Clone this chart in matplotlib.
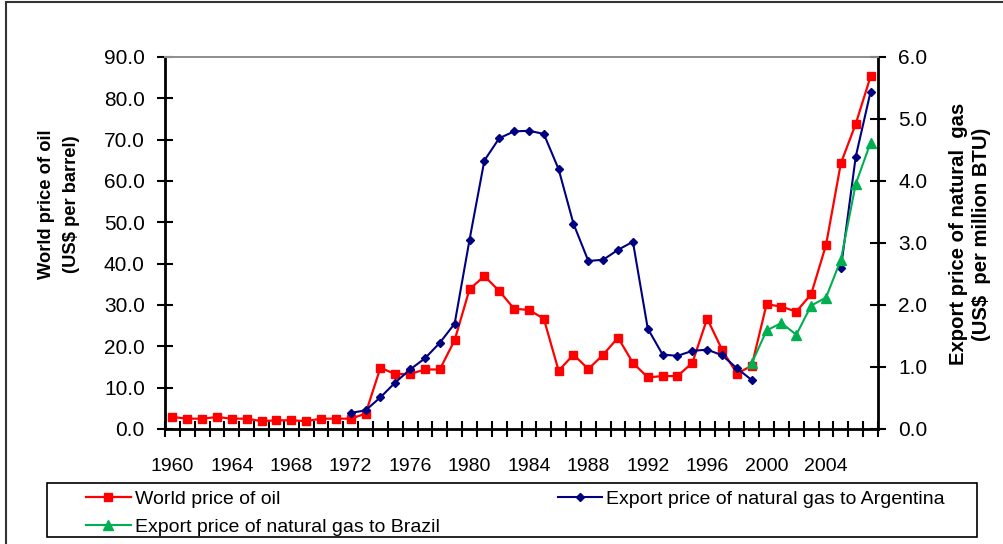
import numpy as np
import matplotlib
matplotlib.use("Agg")
import matplotlib.pyplot as plt
from matplotlib.patches import Rectangle

plt.rcParams['font.family'] = ['Liberation Sans', 'DejaVu Sans']

# datos
years = list(range(1960, 2008))
nan = np.nan
oil = [2.9, 2.5, 2.5, 2.9, 2.5, 2.5, 1.9, 2.1, 2.1, 1.9, 2.5, 2.5, 2.5, 3.7,
       14.8, 13.3, 13.3, 14.4, 14.4, 21.5, 33.8, 37.0, 33.4,
       29.1, 28.8, 26.7, 14.1, 18.0, 14.5, 18.0, 22.1, 16.0,
       12.5, 12.8, 12.8, 16.0, 26.7, 19.2, 13.4, 15.3,
       30.2, 29.6, 28.4, 32.6, 44.5, 64.3, 73.8, 85.3]
gas_argentina = [nan] * 12 + [0.26, 0.30, 0.51, 0.75, 0.96, 1.14, 1.39, 1.70, 3.05, 4.33,
                              4.69, 4.80, 4.81, 4.76, 4.19, 3.31, 2.71, 2.73, 2.89, 3.02,
                              1.62, 1.20, 1.18, 1.26, 1.28, 1.19, 0.98, 0.79] \
    + [nan] * 5 + [2.59, 4.39, 5.44]
gas_brazil = [nan] * 39 + [1.06, 1.59, 1.71, 1.52, 1.99, 2.12, 2.73, 3.95, 4.62]
year_labels = [str(y) for y in range(1960, 2005, 4)]

x = np.arange(len(years))

fig = plt.figure(figsize=(10.04, 5.44), dpi=100)
ax = fig.add_axes([165 / 1004, 1 - 429 / 544, 713 / 1004, 372 / 544])
ax2 = ax.twinx()

l_oil, = ax.plot(x, oil, color='#FF0000', lw=1.6, marker='s', ms=5.8,
                 label='World price of oil')
l_arg, = ax2.plot(x, gas_argentina, color='#000080', lw=1.5, marker='D', ms=4,
                  label='Export price of natural gas to Argentina')
l_bra, = ax2.plot(x, gas_brazil, color='#00B050', lw=1.5, marker='^', ms=6.5,
                  label='Export price of natural gas to Brazil')

ax.set_xlim(-0.5, len(years) - 0.5)
ax.set_ylim(0, 90)
ax2.set_ylim(0, 6)
ax.set_yticks(np.arange(0, 91, 10))
ax.set_yticklabels([f"{v:.1f}" for v in np.arange(0, 91, 10)])
ax2.set_yticks(np.arange(0, 7, 1))
ax2.set_yticklabels([f"{v:.1f}" for v in np.arange(0, 7, 1)])

# etiquetas de anos en el centro, marcas entre categorias
ax.set_xticks(x[::4][:len(year_labels)])
ax.set_xticklabels(year_labels)
ax.set_xticks(np.arange(-0.5, len(years), 1), minor=True)
ax.tick_params(axis='x', which='major', length=0, pad=21, labelsize=14)
ax.tick_params(axis='x', which='minor', direction='inout', length=11, width=1.5)
ax.tick_params(axis='y', direction='inout', length=11, width=1.5, pad=9, labelsize=15)
ax2.tick_params(axis='y', direction='inout', length=11, width=1.5, pad=9, labelsize=15)

for a in (ax, ax2):
    for s in ('left', 'bottom', 'right'):
        a.spines[s].set_linewidth(2)
    a.spines['top'].set_color('#909090')
    a.spines['top'].set_linewidth(1.3)
ax.spines['right'].set_visible(False)
ax2.spines['left'].set_visible(False)
ax2.spines['bottom'].set_visible(False)

fig.text(59 / 1004, 1 - 204 / 544, 'World price of oil\n(US$ per barrel)',
         rotation=90, ha='center', va='center', fontsize=13.2, fontweight='bold',
         linespacing=1.6)
fig.text(970 / 1004, 1 - 234 / 544, 'Export price of natural  gas\n(US$  per million BTU)',
         rotation=90, ha='center', va='center', fontsize=14.6, fontweight='bold',
         linespacing=1.25)

# leyenda
fig.legend(handles=[l_oil, l_bra, l_arg], ncol=2, frameon=False, mode='expand',
           loc='upper left', bbox_to_anchor=(86 / 1004, 1 - 490 / 544, 859 / 1004, 0),
           bbox_transform=fig.transFigure, borderpad=0, borderaxespad=0,
           handlelength=2.3, handletextpad=0.2, labelspacing=0.55, fontsize=14)
fig.patches.append(Rectangle((47 / 1004, 1 - 537 / 544), 930 / 1004, 54 / 544,
                             transform=fig.transFigure, fill=False,
                             edgecolor='black', lw=1.2))
# borde exterior
fig.patches.append(Rectangle((6 / 1004, -0.1), 1.2, 1.1 - 2 / 544,
                             transform=fig.transFigure, fill=False,
                             edgecolor='#333333', lw=1.5, clip_on=False))

fig.savefig('out.png', dpi=100)
